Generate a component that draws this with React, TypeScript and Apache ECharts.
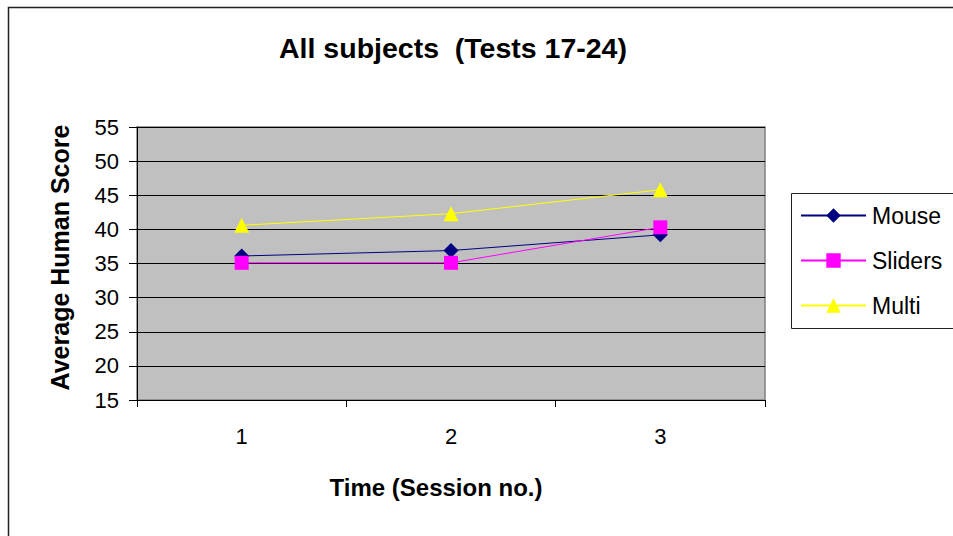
import React, { useEffect, useRef } from "react";
import * as echarts from "echarts";

const categories = ["1", "2", "3"];
const mouse = [36.1, 36.9, 39.2];
const sliders = [35.1, 35.1, 40.3];
const multi = [40.6, 42.3, 45.8];

export default function App() {
  const ref = useRef<HTMLDivElement>(null);
  useEffect(() => {
    if (!ref.current) return;
    const chart = echarts.init(ref.current, null, { renderer: "svg" });
    const font = "Liberation Sans, Arial, sans-serif";
    chart.setOption({
      animation: false,
      backgroundColor: "#ffffff",
      textStyle: { fontFamily: font },
      title: {
        text: "All subjects  (Tests 17-24)",
        left: 453,
        textAlign: "center",
        top: 33,
        padding: 0,
        textStyle: { fontSize: 28.5, fontWeight: "bold", color: "#000", fontFamily: font },
      },
      graphic: [
        {
          type: "rect",
          shape: { x: 8.5, y: 7.5, width: 960, height: 540 },
          style: { fill: "none", stroke: "#222", lineWidth: 1.5 },
          silent: true,
          z: 0,
        },
        {
          type: "rect",
          shape: { x: 791.5, y: 193.5, width: 170, height: 135 },
          style: { fill: "#fff", stroke: "#222", lineWidth: 1 },
          silent: true,
          z: 0,
        },
      ],
      legend: {
        orient: "vertical",
        left: 800,
        top: 204,
        padding: 0,
        itemWidth: 65,
        itemHeight: 18,
        itemGap: 22,
        textStyle: { fontSize: 23, color: "#000", fontFamily: font, padding: [0, 0, 0, 1] },
        data: ["Mouse", "Sliders", "Multi"],
      },
      grid: {
        left: 137,
        top: 127,
        width: 628,
        height: 273,
        show: true,
        backgroundColor: "#C0C0C0",
        borderColor: "#808080",
        borderWidth: 1.5,
      },
      xAxis: {
        type: "category",
        data: categories,
        boundaryGap: true,
        name: "Time (Session no.)",
        nameLocation: "middle",
        nameGap: 75,
        nameTextStyle: {
          fontSize: 24,
          fontWeight: "bold",
          color: "#000",
          fontFamily: font,
          padding: [0, 30, 0, 0],
        },
        axisLine: { show: true, lineStyle: { color: "#000", width: 1 } },
        axisTick: { show: true, inside: false, length: 7, lineStyle: { color: "#000" } },
        axisLabel: { fontSize: 22, color: "#000", margin: 25, fontFamily: font },
        splitLine: { show: false },
      },
      yAxis: {
        type: "value",
        min: 15,
        max: 55,
        interval: 5,
        name: "Average Human Score",
        nameLocation: "middle",
        nameRotate: 90,
        nameGap: 65,
        nameTextStyle: {
          fontSize: 25,
          fontWeight: "bold",
          color: "#000",
          fontFamily: font,
          padding: [0, 0, 0, 12],
        },
        axisLine: { show: true, lineStyle: { color: "#000", width: 1 } },
        axisTick: { show: true, inside: false, length: 8, lineStyle: { color: "#000" } },
        axisLabel: { fontSize: 22, color: "#000", margin: 18, fontFamily: font },
        splitLine: { show: true, lineStyle: { color: "#000", width: 1 } },
      },
      series: [
        {
          name: "Mouse",
          type: "line",
          data: mouse,
          symbol: "diamond",
          symbolSize: 15,
          itemStyle: { color: "#000080" },
          lineStyle: { color: "#000080", width: 1 },
          z: 3,
        },
        {
          name: "Sliders",
          type: "line",
          data: sliders,
          symbol: "rect",
          symbolSize: 14,
          itemStyle: { color: "#FF00FF" },
          lineStyle: { color: "#FF00FF", width: 1 },
          z: 4,
        },
        {
          name: "Multi",
          type: "line",
          data: multi,
          symbol: "triangle",
          symbolSize: 15,
          itemStyle: { color: "#FFFF00" },
          lineStyle: { color: "#FFFF00", width: 1 },
          z: 2,
        },
      ],
    });
    return () => chart.dispose();
  }, []);
  return (
    <div
      ref={ref}
      style={{ position: "fixed", left: 0, top: 0, width: 953, height: 536 }}
    />
  );
}
